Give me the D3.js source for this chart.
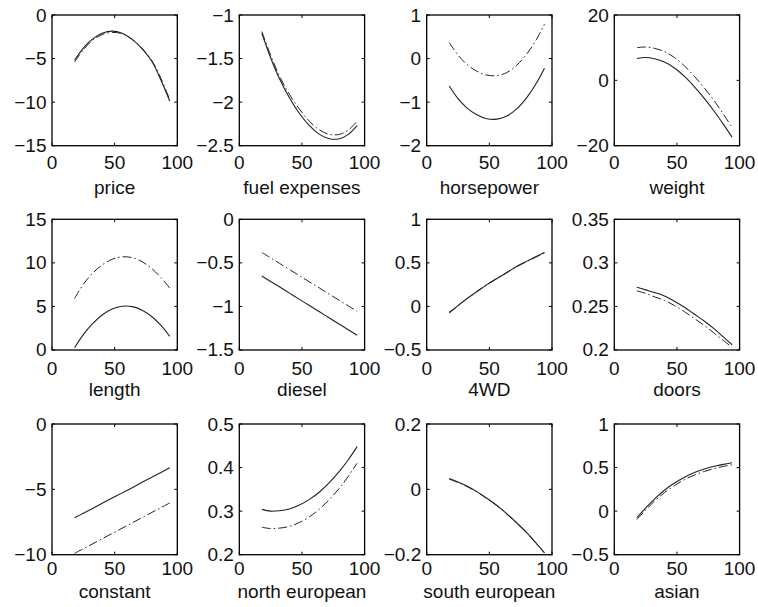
<!DOCTYPE html>
<html>
<head>
<meta charset="utf-8">
<script src="https://cdn.jsdelivr.net/npm/d3@7"></script>
<style>
  html, body { margin: 0; padding: 0; background: #fff; }
  svg { display: block; }
  text { font-family: "Liberation Sans", Arial, sans-serif; fill: #111; }
</style>
</head>
<body>
<svg id="chart" width="758" height="607"></svg>
<script>
// ---------------- data ----------------
const xValues = [18, 25, 32, 40, 48, 56, 64, 72, 80, 87, 94];
const xTicks = [0, 50, 100];

const panelNames = ["price", "fuel expenses", "horsepower", "weight",
                    "length", "diesel", "4WD", "doors",
                    "constant", "north european", "south european", "asian"];

const yDomains = [[-15, 0], [-2.5, -1], [-2, 1], [-20, 20],
                  [0, 15], [-1.5, 0], [-0.5, 1], [0.2, 0.35],
                  [-10, 0], [0.2, 0.5], [-0.2, 0.2], [-0.5, 1]];

const yTicks = [[-15, -10, -5, 0], [-2.5, -2, -1.5, -1], [-2, -1, 0, 1], [-20, 0, 20],
                [0, 5, 10, 15], [-1.5, -1, -0.5, 0], [-0.5, 0, 0.5, 1], [0.2, 0.25, 0.3, 0.35],
                [-10, -5, 0], [0.2, 0.3, 0.4, 0.5], [-0.2, 0, 0.2], [-0.5, 0, 0.5, 1]];

const solidSeries = [
  [-5.2, -3.8, -2.8, -2.1, -1.85, -2.1, -2.8, -3.9, -5.4, -7.5, -9.9],
  [-1.21, -1.49, -1.73, -1.95, -2.13, -2.27, -2.37, -2.42, -2.42, -2.37, -2.27],
  [-0.63, -0.92, -1.13, -1.29, -1.38, -1.39, -1.32, -1.15, -0.89, -0.59, -0.22],
  [6.7, 7.0, 6.6, 5.6, 3.8, 1.2, -2.0, -5.6, -9.6, -13.4, -17.4],
  [0.26, 1.76, 2.97, 4.02, 4.71, 5.02, 4.98, 4.57, 3.79, 2.82, 1.56],
  [-0.65, -0.713, -0.775, -0.847, -0.919, -0.99, -1.062, -1.133, -1.205, -1.268, -1.33],
  [-0.07, 0.01, 0.09, 0.17, 0.25, 0.32, 0.39, 0.46, 0.52, 0.57, 0.62],
  [0.272, 0.269, 0.266, 0.262, 0.256, 0.249, 0.241, 0.233, 0.224, 0.215, 0.206],
  [-7.18, -6.83, -6.48, -6.07, -5.67, -5.27, -4.87, -4.46, -4.06, -3.71, -3.35],
  [0.304, 0.300, 0.301, 0.305, 0.314, 0.327, 0.344, 0.366, 0.392, 0.418, 0.448],
  [0.033, 0.0225, 0.010, -0.007, -0.027, -0.049, -0.075, -0.103, -0.133, -0.163, -0.194],
  [-0.074, 0.035, 0.138, 0.240, 0.322, 0.390, 0.443, 0.483, 0.515, 0.537, 0.555]
];

const dashedSeries = [
  [-5.4, -4.0, -2.95, -2.25, -2.0, -2.15, -2.8, -3.85, -5.3, -7.3, -9.7],
  [-1.19, -1.46, -1.70, -1.91, -2.08, -2.22, -2.32, -2.37, -2.37, -2.32, -2.22],
  [0.37, 0.08, -0.13, -0.29, -0.38, -0.39, -0.32, -0.15, 0.11, 0.41, 0.79],
  [10.0, 10.2, 9.8, 8.8, 7.0, 4.4, 1.2, -2.4, -6.4, -10.3, -14.4],
  [5.9, 7.54, 8.74, 9.76, 10.41, 10.69, 10.6, 10.13, 9.3, 8.3, 7.1],
  [-0.38, -0.442, -0.505, -0.576, -0.647, -0.718, -0.789, -0.861, -0.932, -0.994, -1.056],
  [-0.075, 0.005, 0.087, 0.168, 0.248, 0.318, 0.388, 0.457, 0.516, 0.565, 0.615],
  [0.268, 0.265, 0.261, 0.257, 0.251, 0.244, 0.236, 0.228, 0.219, 0.211, 0.203],
  [-9.9, -9.54, -9.19, -8.78, -8.38, -7.97, -7.56, -7.16, -6.75, -6.40, -6.04],
  [0.263, 0.260, 0.261, 0.265, 0.274, 0.287, 0.305, 0.327, 0.353, 0.380, 0.410],
  [0.031, 0.021, 0.009, -0.008, -0.028, -0.050, -0.076, -0.104, -0.134, -0.164, -0.195],
  [-0.097, 0.012, 0.113, 0.212, 0.293, 0.362, 0.415, 0.456, 0.490, 0.513, 0.532]
];

// ---------------- layout ----------------
const colLeft = [52, 239.3, 426.7, 614.3];
const rowTop = [15, 219.3, 424];
const pw = 125.3, ph = 130.7;
const tickLabelDy = [23.6, 25, 20.5];
const nameDy = [48.5, 46, 43];
const fontSize = 19;
const tickLen = 3;

const svg = d3.select("#chart");
const fmt = d3.format("~g");

panelNames.forEach((name, i) => {
  const r = Math.floor(i / 4), c = i % 4;
  const g = svg.append("g").attr("transform", `translate(${colLeft[c]},${rowTop[r]})`);
  const x = d3.scaleLinear().domain([0, 100]).range([0, pw]);
  const y = d3.scaleLinear().domain(yDomains[i]).range([ph, 0]);

  // inward ticks on all four sides
  const ticksG = g.append("g").attr("stroke", "#000").attr("stroke-width", 1);
  xTicks.forEach(t => {
    ticksG.append("line").attr("x1", x(t)).attr("x2", x(t)).attr("y1", ph).attr("y2", ph - tickLen);
    ticksG.append("line").attr("x1", x(t)).attr("x2", x(t)).attr("y1", 0).attr("y2", tickLen);
  });
  yTicks[i].forEach(t => {
    ticksG.append("line").attr("x1", 0).attr("x2", tickLen).attr("y1", y(t)).attr("y2", y(t));
    ticksG.append("line").attr("x1", pw).attr("x2", pw - tickLen).attr("y1", y(t)).attr("y2", y(t));
  });

  // lines
  const line = d3.line()
    .x((d, k) => x(xValues[k]))
    .y(d => y(d))
    .curve(d3.curveCatmullRom.alpha(0.5));

  g.append("path").datum(dashedSeries[i])
    .attr("d", line).attr("fill", "none")
    .attr("stroke", "#222").attr("stroke-width", 1)
    .attr("stroke-dasharray", "9,3,1.5,3");
  g.append("path").datum(solidSeries[i])
    .attr("d", line).attr("fill", "none")
    .attr("stroke", "#222").attr("stroke-width", 1.1);

  // box
  g.append("rect").attr("x", 0).attr("y", 0).attr("width", pw).attr("height", ph)
    .attr("fill", "none").attr("stroke", "#000").attr("stroke-width", 1.3);

  // x tick labels
  xTicks.forEach(t => {
    g.append("text").attr("x", x(t)).attr("y", ph + tickLabelDy[r])
      .attr("text-anchor", "middle").attr("font-size", fontSize).text(fmt(t));
  });
  // y tick labels
  yTicks[i].forEach(t => {
    g.append("text").attr("x", -5.5).attr("y", y(t))
      .attr("text-anchor", "end").attr("dominant-baseline", "central")
      .attr("font-size", fontSize).text(fmt(t));
  });
  // panel name
  g.append("text").attr("x", pw / 2).attr("y", ph + nameDy[r])
    .attr("text-anchor", "middle").attr("font-size", fontSize).text(name);
});
</script>
</body>
</html>
